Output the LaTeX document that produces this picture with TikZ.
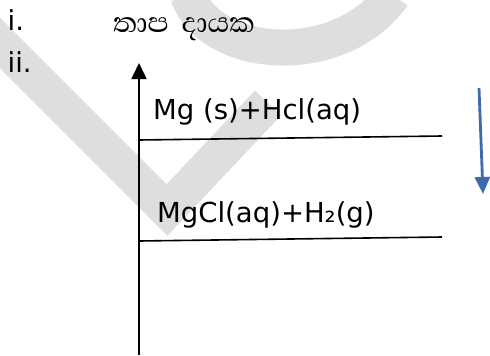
\documentclass[tikz,border=0pt]{standalone}
\usepackage{fontspec}
\setmainfont{DejaVu Sans}
\newfontfamily\sinhalafont[Script=Sinhala]{Abhaya Libre}
\usetikzlibrary{arrows.meta, positioning}
\definecolor{wmgrey}{HTML}{DEDEDE}
\definecolor{arrowblue}{HTML}{3D6BAE}

\begin{document}
\begin{tikzpicture}[x=1pt, y=-1pt,
  txt/.style={inner sep=0pt, anchor=base west, font=\fontsize{27.5}{33}\selectfont},
  level/.style={line width=1.6pt},
  wmark/.style={wmgrey, line width=36pt},
]
\useasboundingbox (0,0) rectangle (490,356);
% watermark behind everything
\begin{scope}
  \clip (0,0) rectangle (490,356);
  \draw[wmark] (-25,18) -- (167,210) -- (268,103);
  \draw[wmark] (188,-5) .. controls (210,60) and (340,70) .. (393,-5);
\end{scope}
% labels
\node[txt] (lbli)  at (7.5,30) {i.};
\node[txt] (lblii) at (7.5,72) {ii.};
\node[txt, font=\sinhalafont\fontsize{36}{40}\selectfont] (heat) at (113,32) {තාප\hspace{13pt}දායක};
% energy axis
\coordinate (axbot) at (139,355);
\coordinate (axtop) at (139,63);
\draw[line width=1.6pt, -{Triangle[width=15pt, length=16pt]}] (axbot) -- (axtop);
% energy levels
\coordinate (reacL) at (139,140);
\coordinate (reacR) at (442,136);
\coordinate (prodL) at (139,241);
\coordinate (prodR) at (442,237);
\draw[level] (reacL) -- (reacR);
\draw[level] (prodL) -- (prodR);
\node[txt] (reac) at (153,119) {Mg (s)+Hcl(aq)};
\node[txt] (prod) at (157,222) {MgCl(aq)+H₂(g)};
% direction of change
\coordinate (dirtop) at (479,88);
\coordinate (dirbot) at (483,194);
\draw[arrowblue, line width=2.8pt, -{Triangle[width=15pt, length=17pt]}] (dirtop) -- (dirbot);
\end{tikzpicture}
\end{document}
